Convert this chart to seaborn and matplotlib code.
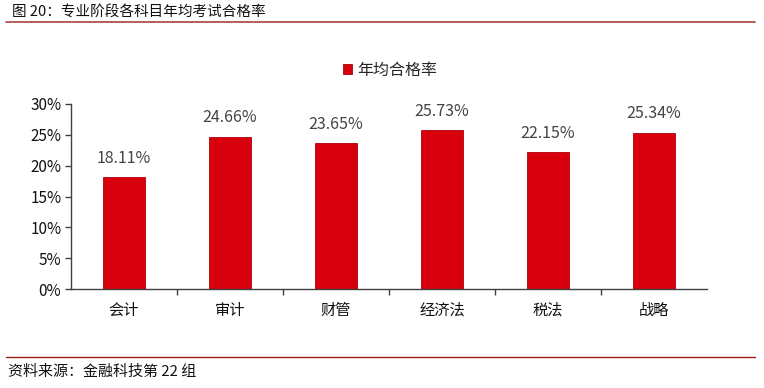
import matplotlib
matplotlib.use("Agg")
import matplotlib.pyplot as plt
import seaborn as sns
import pandas as pd
from matplotlib.ticker import PercentFormatter, FixedLocator

categories = ["会计", "审计", "财管", "经济法", "税法", "战略"]
rates = [18.11, 24.66, 23.65, 25.73, 22.15, 25.34]
series_name = "年均合格率"
title = "图 20：专业阶段各科目年均考试合格率"
source = "资料来源：金融科技第 22 组"

sns.set_theme(style="white")
plt.rcParams['font.family'] = ['Noto Sans CJK SC', 'DejaVu Sans']

df = pd.DataFrame({"科目": categories, "rate": [r / 100 for r in rates], "series": series_name})

fig = plt.figure(figsize=(7.64, 3.88), dpi=100)
ax = fig.add_axes([71/764, 1-289/388, (707-71)/764, (289-104)/388])

sns.barplot(data=df, x="科目", y="rate", hue="series", palette=["#D9000D"],
            width=0.4, ax=ax, saturation=1, legend=True,
            edgecolor="#B0000A", linewidth=0.6)

ax.set_ylim(0, 0.30)
ax.set_xlim(-0.5, len(categories) - 0.5)
ax.yaxis.set_major_formatter(PercentFormatter(1.0, decimals=0))
ax.set_yticks([0, 0.05, 0.10, 0.15, 0.20, 0.25, 0.30])
ax.set_xlabel("")
ax.set_ylabel("")
for s in ["top", "right"]:
    ax.spines[s].set_visible(False)
for s in ["left", "bottom"]:
    ax.spines[s].set_color("#404040")
    ax.spines[s].set_linewidth(1.0)
ax.tick_params(axis="y", which="major", direction="out", length=4, width=1,
               color="#404040", labelsize=11, labelcolor="#111111", left=True, pad=3)
ax.tick_params(axis="x", which="major", length=0, labelsize=11, labelcolor="#111111", pad=9)
ax.xaxis.set_minor_locator(FixedLocator([i + 0.5 for i in range(len(categories) - 1)]))
ax.tick_params(axis="x", which="minor", direction="out", length=4, width=1,
               color="#404040", bottom=True)

for i, r in enumerate(rates):
    ax.text(i, r / 100 + 0.017, f"{r:.2f}%", ha="center", va="bottom",
            fontsize=11.5, color="#444444")

leg = ax.legend(loc="center", bbox_to_anchor=(390/764, 1-70/388),
                bbox_transform=fig.transFigure, frameon=False, fontsize=11.5,
                handlelength=0.6, handleheight=0.6, handletextpad=0.3)

fig.text(12/764, 1-12/388, title, ha="left", va="center", fontsize=10.5, color="#111111")
fig.add_artist(plt.Line2D([6/764, 755/764], [1-22/388, 1-22/388], color="#A8443C",
                          linewidth=1.2, transform=fig.transFigure))
fig.add_artist(plt.Line2D([6/764, 755/764], [1-357/388, 1-357/388], color="#9A1E18",
                          linewidth=1.0, transform=fig.transFigure))
fig.text(8/764, 1-372/388, source, ha="left", va="center", fontsize=10.8, color="#111111")

fig.savefig("out.png", dpi=100)
